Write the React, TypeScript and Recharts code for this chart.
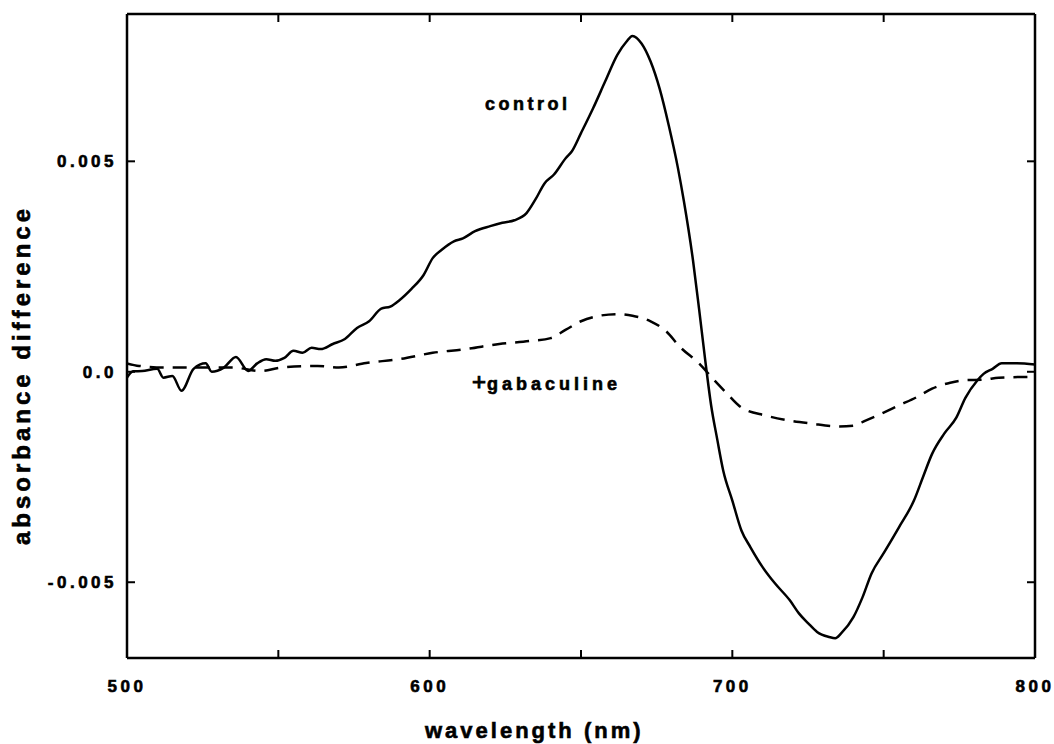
import { LineChart, Line, XAxis, YAxis } from "recharts";

// control spectrum (solid)
const controlNm = [
  500, 502, 505, 510, 512, 515, 518, 522, 526, 528, 532, 536, 540, 543, 546,
  549, 552, 555, 558, 561, 564, 568, 572, 576, 580, 584, 587, 590, 594, 598,
  601, 604, 608, 611, 615, 620, 624, 628, 632, 635, 638, 641, 645, 647, 650,
  654, 658, 662, 665, 667, 670, 673, 676, 679, 682, 684, 687, 689, 691, 693,
  695, 697, 700, 703, 706, 710, 714, 719, 722, 725, 728, 732, 734, 736, 740,
  743, 746, 750, 755, 760, 763, 766, 770, 774, 777, 781, 783, 786, 789, 794,
  800,
];
const controlAbs = [
  -0.00014, 0.00001, 0.00002, 0.00007, -0.00014, -0.0001, -0.00045, 0.00007,
  0.0002, 0.0, 0.0001, 0.00035, 0.00002, 0.0002, 0.0003, 0.00026, 0.00033,
  0.0005, 0.00045, 0.00057, 0.00054, 0.00066, 0.00078, 0.00104, 0.0012,
  0.0015, 0.00155, 0.0017, 0.00197, 0.0023, 0.0027, 0.0029, 0.0031, 0.00317,
  0.00334, 0.00346, 0.00354, 0.0036, 0.00377, 0.0041, 0.00448, 0.00468,
  0.00508, 0.00524, 0.00567, 0.00626, 0.0069, 0.00753, 0.00784, 0.00798,
  0.0078, 0.00737, 0.00672, 0.00585, 0.00485, 0.00405, 0.00265, 0.0015,
  0.0003, -0.0008, -0.0016, -0.00235, -0.00306, -0.00377, -0.00417, -0.00464,
  -0.00502, -0.00543, -0.00574, -0.00597, -0.00618, -0.0063, -0.00633,
  -0.00621, -0.00583, -0.00536, -0.00479, -0.00431, -0.0037, -0.00306,
  -0.0025, -0.00195, -0.00147, -0.00109, -0.00062, -0.0002, -0.00005, 0.00007,
  0.0002, 0.0002, 0.00017,
];

// +gabaculine spectrum (dashed)
const gabaNm = [
  500, 504, 513, 524, 535, 544, 551, 563, 570, 579, 590, 601, 612, 623, 633,
  640, 645, 650, 656, 662, 667, 673, 678, 683, 689, 694, 698, 703, 711, 719,
  726, 735, 740, 744, 750, 755, 761, 766, 772, 777, 783, 788, 800,
];
const gabaAbs = [
  0.0002, 0.00014, 0.0001, 0.0001, 0.0001, 0.00002, 0.0001, 0.00014, 0.0001,
  0.00021, 0.0003, 0.00045, 0.00054, 0.00066, 0.00073, 0.0008, 0.001, 0.0012,
  0.00133, 0.00137, 0.00133, 0.0012, 0.00097, 0.00057, 0.0002, -0.0002,
  -0.0005, -0.00085, -0.00104, -0.00116, -0.00123, -0.0013, -0.00128,
  -0.00116, -0.00097, -0.0008, -0.0006, -0.0004, -0.00026, -0.0002, -0.00019,
  -0.00014, -0.00012,
];

const xTicks = [500, 550, 600, 650, 700, 750, 800];
const xLabels = [500, 600, 700, 800];
const yTicks = [-0.005, 0, 0.005];
const yLabels = ["-0.005", "0.0", "0.005"];

const controlData = controlNm.map((x, i) => ({ x, y: controlAbs[i] }));
const gabaData = gabaNm.map((x, i) => ({ x, y: gabaAbs[i] }));

const font = "'Liberation Sans', Arial, sans-serif";
const TICK = 8;

const BottomTick = (props: any) => {
  const { x, y, payload } = props;
  const show = xLabels.includes(payload.value);
  return (
    <g>
      <line x1={x} y1={y} x2={x} y2={y - TICK} stroke="#000" strokeWidth={2} />
      {show && (
        <text
          x={x}
          y={y + 34}
          textAnchor="middle"
          fontFamily={font}
          fontWeight="bold"
          fontSize={17}
          letterSpacing={3.5}
          fill="#000"
          stroke="#000"
          strokeWidth={0.6}
        >
          {payload.value}
        </text>
      )}
    </g>
  );
};

const TopTick = (props: any) => {
  const { x, y } = props;
  return <line x1={x} y1={y} x2={x} y2={y + TICK} stroke="#000" strokeWidth={2} />;
};

const LeftTick = (props: any) => {
  const { x, y, index } = props;
  return (
    <g>
      <line x1={x} y1={y} x2={x + TICK} y2={y} stroke="#000" strokeWidth={2} />
      <text
        x={x - 10}
        y={y + 6}
        textAnchor="end"
        fontFamily={font}
        fontWeight="bold"
        fontSize={17}
        letterSpacing={3.5}
        fill="#000"
        stroke="#000"
        strokeWidth={0.6}
      >
        {yLabels[index]}
      </text>
    </g>
  );
};

const RightTick = (props: any) => {
  const { x, y } = props;
  return <line x1={x} y1={y} x2={x - TICK} y2={y} stroke="#000" strokeWidth={2} />;
};

const textStyle: React.CSSProperties = {
  position: "absolute",
  fontFamily: font,
  fontWeight: "bold",
  color: "#000",
  whiteSpace: "nowrap",
  lineHeight: 1,
  WebkitTextStroke: "0.6px #000",
};

const axisLine = { stroke: "#000", strokeWidth: 2.5 };

export default function App() {
  return (
    <div
      style={{
        position: "absolute",
        left: 0,
        top: 0,
        width: 1054,
        height: 744,
        background: "#fff",
        overflow: "hidden",
      }}
    >
      <LineChart
        width={1054}
        height={744}
        margin={{ top: 4, right: 9, left: 67, bottom: 56 }}
      >
        <XAxis
          xAxisId="bottom"
          dataKey="x"
          type="number"
          domain={[500, 800]}
          ticks={xTicks}
          allowDataOverflow
          height={30}
          tickSize={0}
          tickMargin={0}
          tickLine={false}
          tick={<BottomTick />}
          axisLine={axisLine}
          interval={0}
        />
        <XAxis
          xAxisId="top"
          orientation="top"
          dataKey="x"
          type="number"
          domain={[500, 800]}
          ticks={xTicks}
          allowDataOverflow
          height={10}
          tickSize={0}
          tickMargin={0}
          tickLine={false}
          tick={<TopTick />}
          axisLine={axisLine}
          interval={0}
        />
        <YAxis
          yAxisId="left"
          type="number"
          domain={[-0.0068, 0.0085]}
          ticks={yTicks}
          allowDataOverflow
          width={60}
          tickSize={0}
          tickMargin={0}
          tickLine={false}
          tick={<LeftTick />}
          axisLine={axisLine}
          interval={0}
        />
        <YAxis
          yAxisId="right"
          orientation="right"
          type="number"
          domain={[-0.0068, 0.0085]}
          ticks={yTicks}
          allowDataOverflow
          width={10}
          tickSize={0}
          tickMargin={0}
          tickLine={false}
          tick={<RightTick />}
          axisLine={axisLine}
          interval={0}
        />
        <Line
          xAxisId="bottom"
          yAxisId="left"
          data={gabaData}
          dataKey="y"
          type="monotone"
          stroke="#000"
          strokeWidth={2.5}
          strokeDasharray="14 9"
          dot={false}
          isAnimationActive={false}
        />
        <Line
          xAxisId="bottom"
          yAxisId="left"
          data={controlData}
          dataKey="y"
          type="monotone"
          stroke="#000"
          strokeWidth={2.5}
          dot={false}
          isAnimationActive={false}
        />
      </LineChart>
      <div style={{ ...textStyle, left: 485, top: 95, fontSize: 18, letterSpacing: 3.5 }}>
        control
      </div>
      <div style={{ ...textStyle, left: 472, top: 370, fontSize: 18, letterSpacing: 4 }}>
        <span style={{ fontSize: 24, fontWeight: "normal", WebkitTextStroke: "1px #000", letterSpacing: 1 }}>+</span>
        gabaculine
      </div>
      <div style={{ ...textStyle, left: 425, top: 720, fontSize: 22, letterSpacing: 3 }}>
        wavelength (nm)
      </div>
      <div
        style={{
          ...textStyle,
          left: 22,
          top: 375,
          fontSize: 24,
          letterSpacing: 4,
          transform: "translate(-50%, -50%) rotate(-90deg)",
        }}
      >
        absorbance difference
      </div>
    </div>
  );
}
